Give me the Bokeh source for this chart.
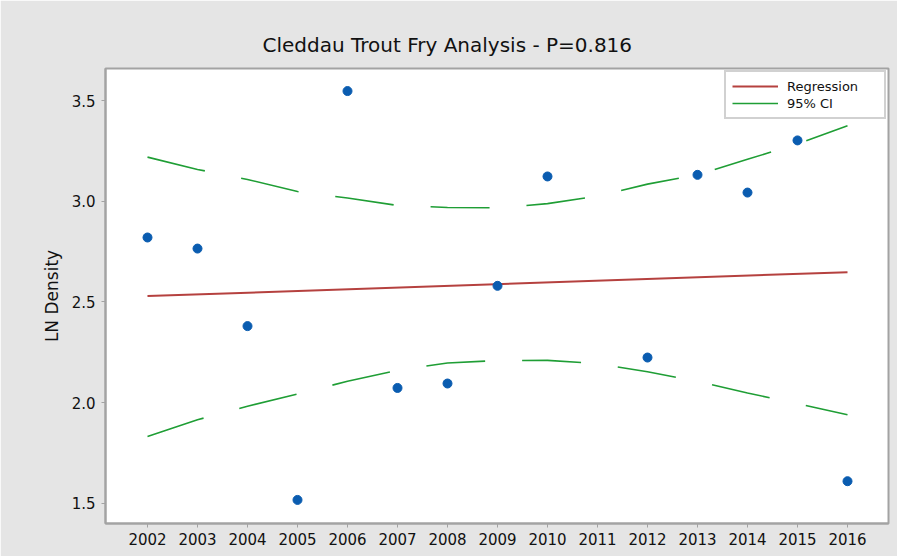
from bokeh.plotting import figure
from bokeh.models import FixedTicker, Legend, LegendItem, Range1d, PrintfTickFormatter
from bokeh.embed import file_html
from bokeh.resources import INLINE

# Observed data
years = [2002, 2003, 2004, 2005, 2006, 2007, 2008, 2009, 2010, 2012, 2013, 2014, 2015, 2016]
ln_density = [2.82, 2.765, 2.38, 1.517, 3.547, 2.073, 2.095, 2.58, 3.123, 2.224, 3.131, 3.043, 3.302, 1.61]

# Fitted regression line (endpoints)
fit_years = [2002, 2016]
fit_values = [2.529, 2.648]

# 95% confidence band
ci_years = [2002, 2003, 2004, 2005, 2006, 2007, 2008, 2009, 2010, 2011, 2012, 2013, 2014, 2015, 2016]
ci_upper = [3.219, 3.158, 3.108, 3.048, 3.016, 2.979, 2.969, 2.967, 2.988, 3.025, 3.085, 3.131, 3.208, 3.285, 3.375]
ci_lower = [1.832, 1.915, 1.982, 2.043, 2.106, 2.161, 2.197, 2.209, 2.210, 2.194, 2.153, 2.106, 2.048, 1.995, 1.940]

x_ticks = list(range(2002, 2017))
y_ticks = [1.5, 2.0, 2.5, 3.0, 3.5]

title_text = "Cleddau Trout Fry Analysis - P=0.816"
y_label = "LN Density"

PANEL = "#e5e5e5"
FRAME = "#a3a3a3"
FONT = "DejaVu Sans"

p = figure(width=897, height=556, output_backend="svg", toolbar_location=None,
           x_range=Range1d(2001.16, 2016.82), y_range=Range1d(1.40, 3.659),
           title=title_text,
           min_border_left=105, min_border_right=9, min_border_top=68, min_border_bottom=33)

p.background_fill_color = "white"
p.border_fill_color = PANEL
p.outline_line_color = FRAME
p.outline_line_width = 2
p.xgrid.visible = False
p.ygrid.visible = False

p.title.align = "left"
p.title.offset = 157
p.title.text_font = FONT
p.title.text_font_size = "20px"
p.title.text_font_style = "normal"
p.title.text_color = "#111111"
p.title.standoff = 24

for ax in (p.xaxis[0], p.yaxis[0]):
    ax.axis_line_color = FRAME
    ax.axis_line_width = 2
    ax.major_tick_line_color = FRAME
    ax.major_tick_out = 4
    ax.major_tick_in = 0
    ax.minor_tick_line_color = None
    ax.major_label_text_font = FONT
    ax.major_label_text_font_size = "15px"
    ax.major_label_text_color = "#111111"

p.xaxis.ticker = FixedTicker(ticks=x_ticks)
p.yaxis.ticker = FixedTicker(ticks=y_ticks)
p.yaxis.formatter = PrintfTickFormatter(format="%.1f")
p.xaxis.major_label_standoff = 5
p.yaxis.major_label_standoff = 6

p.yaxis.axis_label = y_label
p.yaxis.axis_label_text_font = FONT
p.yaxis.axis_label_text_font_size = "17px"
p.yaxis.axis_label_text_font_style = "normal"
p.yaxis.axis_label_text_color = "#111111"
p.yaxis.axis_label_standoff = 7

r_fit = p.line(fit_years, fit_values, line_color="#b5413f", line_width=2)
r_up = p.line(ci_years, ci_upper, line_color="#1f9e35", line_width=1.6, line_dash="59 37")
r_lo = p.line(ci_years, ci_lower, line_color="#1f9e35", line_width=1.6, line_dash="59 37")
p.scatter(years, ln_density, marker="circle", size=9, fill_color="#0a5cb0", line_color="#0a5cb0")

legend = Legend(items=[LegendItem(label="Regression", renderers=[r_fit]),
                       LegendItem(label="95% CI", renderers=[r_up])],
                location="top_right", margin=2, padding=6, spacing=1,
                glyph_width=46, glyph_height=16, label_height=16, label_width=91,
                label_standoff=9, label_text_font=FONT, label_text_font_size="13px",
                label_text_color="#111111",
                border_line_color=FRAME, border_line_width=2,
                background_fill_color="white", background_fill_alpha=1.0)
p.add_layout(legend, "center")

open("out.html", "w").write(file_html(p, INLINE))
